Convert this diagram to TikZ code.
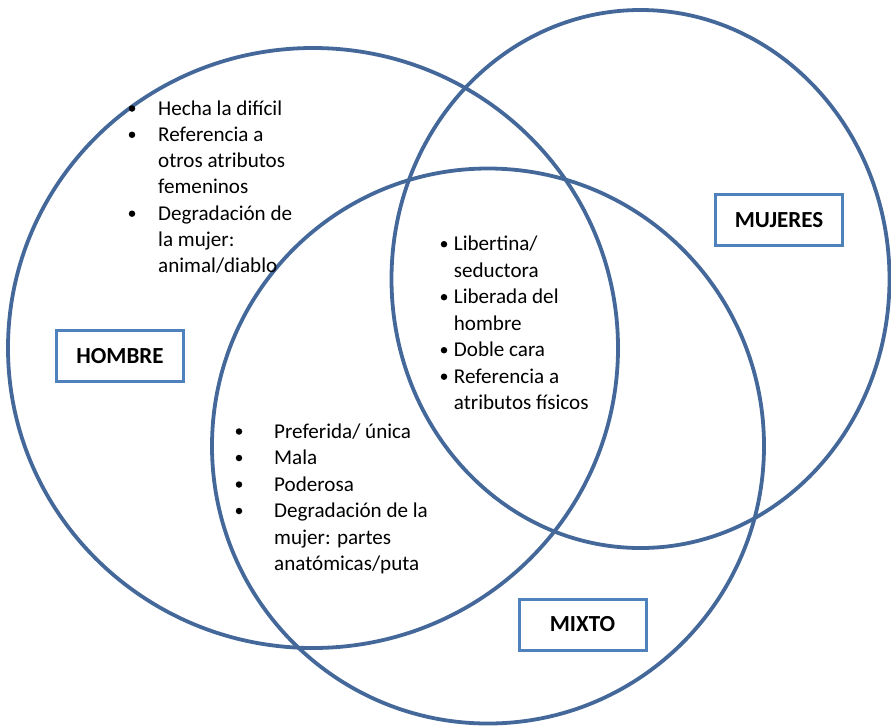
\documentclass[tikz,border=0pt]{standalone}
\usepackage{fontspec}
\setmainfont{Carlito}
\definecolor{ringc}{HTML}{44689A}
\definecolor{boxc}{HTML}{4F81BD}
\begin{document}
\begin{tikzpicture}[x=1pt,y=-1pt,
  ring/.style={draw=ringc, line width=3.8pt},
  lbl/.style={draw=boxc, line width=3pt, minimum width=127pt, minimum height=51pt, inner sep=0pt, font=\fontsize{23}{27}\selectfont\bfseries, text height=14.8pt, text depth=0pt},
  txt/.style={anchor=base west, inner sep=0pt, font=\fontsize{21.1}{26.4}\selectfont},
  bul/.style={circle, fill=black, inner sep=0pt, minimum size=6.5pt}]
\useasboundingbox (0,0) rectangle (891,726);
% circles
\draw[ring] (313,348) ellipse [x radius=305pt, y radius=300pt];
\draw[ring] (640.5,279) ellipse [x radius=249pt, y radius=269pt];
\draw[ring] (488,446) ellipse [x radius=276pt, y radius=277.5pt];
% labels
\node[lbl] (hombre) at (120,356) {HOMBRE};
\node[lbl] (mujeres) at (779,220) {MUJERES};
\node[lbl] (mixto) at (582.5,624.5) {MIXTO};
% group 1 (hombre only)
\node[bul] (b1a) at (132,108.5) {};
\node[bul] (b1b) at (132,134.8) {};
\node[bul] (b1c) at (132,213.7) {};
\node[txt] (t1a) at (158,115) {Hecha la difícil};
\node[txt] (t1b) at (158,141.3) {Referencia a};
\node[txt] (t1c) at (158,167.6) {otros atributos};
\node[txt] (t1d) at (158,193.9) {femeninos};
\node[txt] (t1e) at (158,220.2) {Degradación de};
\node[txt] (t1f) at (158,246.5) {la mujer:};
\node[txt] (t1g) at (158,272.8) {animal/diablo};
% group 2 (centre)
\node[bul] (b2a) at (444,244.2) {};
\node[bul] (b2b) at (444,297.2) {};
\node[bul] (b2c) at (444,350.2) {};
\node[bul] (b2d) at (444,376.7) {};
\node[txt] (t2a) at (453.7,250.7) {Libertina/};
\node[txt] (t2b) at (453.7,277.2) {seductora};
\node[txt] (t2c) at (453.7,303.7) {Liberada del};
\node[txt] (t2d) at (453.7,330.2) {hombre};
\node[txt] (t2e) at (453.7,356.7) {Doble cara};
\node[txt] (t2f) at (453.7,383.2) {Referencia a};
\node[txt] (t2g) at (453.7,409.7) {atributos físicos};
% group 3 (hombre & mixto)
\node[bul] (b3a) at (239,431.5) {};
\node[bul] (b3b) at (239,458) {};
\node[bul] (b3c) at (239,484.5) {};
\node[bul] (b3d) at (239,511) {};
\node[txt] (t3a) at (274,438) {Preferida/ única};
\node[txt] (t3b) at (274,464.5) {Mala};
\node[txt] (t3c) at (274,491) {Poderosa};
\node[txt] (t3d) at (274,517.5) {Degradación de la};
\node[txt] (t3e) at (274,544) {mujer: partes};
\node[txt] (t3f) at (274,570.5) {anatómicas/puta};
\end{tikzpicture}
\end{document}
